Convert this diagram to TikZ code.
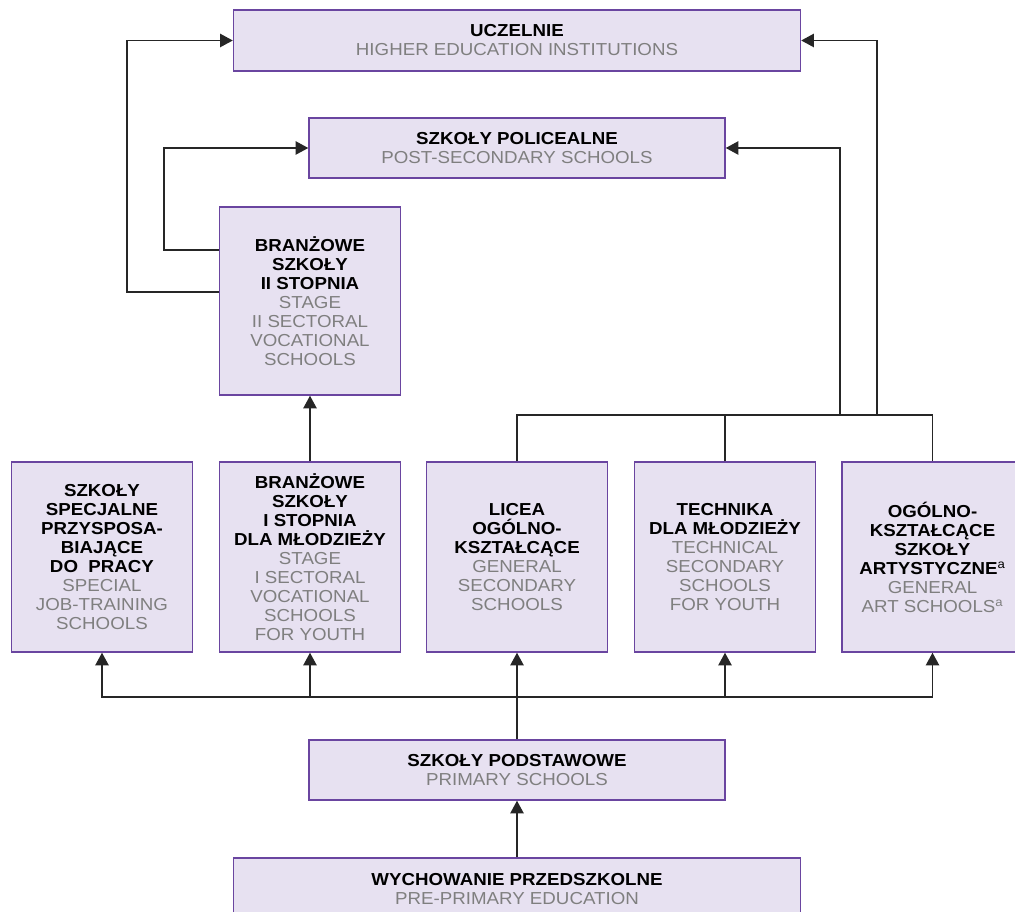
\documentclass[tikz,border=0pt]{standalone}
\usepackage{fontspec}
\setmainfont{Liberation Sans}[FakeStretch=1.08]
\usepackage{xcolor}
\usetikzlibrary{calc,arrows.meta}
\definecolor{boxfill}{HTML}{E7E1F1}
\definecolor{boxline}{HTML}{6A45A0}
\definecolor{engray}{HTML}{7F7F7F}
\tikzset{>={Triangle[width=10pt,length=9.5pt]}}
\tikzset{
  box/.style={draw=boxline, fill=boxfill, line width=1.1pt, inner sep=0pt, align=center,
    font=\fontsize{13pt}{14.25pt}\selectfont},
  widebox/.style={box, minimum width=425.25pt, minimum height=45.75pt},
  midbox/.style={box, minimum width=312pt, minimum height=45pt},
  tallbox/.style={box, minimum width=135.75pt, minimum height=142.5pt},
  conn/.style={line width=1.2pt, draw=black!85},
}

\begin{document}
\begin{tikzpicture}[x=0.75pt,y=-0.75pt]
\useasboundingbox (0,0) rectangle (1015,912);

% upper level
\node[widebox] (uczelnie) at (517,40.5) {\textbf{UCZELNIE}\\\color{engray}HIGHER EDUCATION INSTITUTIONS};
\node[midbox] (policealne) at (517,148) {\textbf{SZKOŁY POLICEALNE}\\\color{engray}POST-SECONDARY SCHOOLS};
\node[tallbox, minimum height=141pt] (branz2) at (310,301)
  {\textbf{BRANŻOWE}\\\textbf{SZKOŁY}\\\textbf{II STOPNIA}\\\color{engray}STAGE\\\color{engray}II SECTORAL\\\color{engray}VOCATIONAL\\\color{engray}SCHOOLS};

% secondary level
\node[tallbox] (specjalne) at (102,557)
  {\textbf{SZKOŁY}\\\textbf{SPECJALNE}\\\textbf{PRZYSPOSA-}\\\textbf{BIAJĄCE}\\\textbf{DO\ \ PRACY}\\\color{engray}SPECIAL\\\color{engray}JOB-TRAINING\\\color{engray}SCHOOLS};
\node[tallbox] (branz1) at (310,557)
  {\textbf{BRANŻOWE}\\\textbf{SZKOŁY}\\\textbf{I STOPNIA}\\\textbf{DLA MŁODZIEŻY}\\\color{engray}STAGE\\\color{engray}I SECTORAL\\\color{engray}VOCATIONAL\\\color{engray}SCHOOLS\\\color{engray}FOR YOUTH};
\node[tallbox] (licea) at (517,557)
  {\textbf{LICEA}\\\textbf{OGÓLNO-}\\\textbf{KSZTAŁCĄCE}\\\color{engray}GENERAL\\\color{engray}SECONDARY\\\color{engray}SCHOOLS};
\node[tallbox] (technika) at (725,557)
  {\textbf{TECHNIKA}\\\textbf{DLA MŁODZIEŻY}\\\color{engray}TECHNICAL\\\color{engray}SECONDARY\\\color{engray}SCHOOLS\\\color{engray}FOR YOUTH};
\node[tallbox] (artyst) at (932.5,557)
  {\textbf{OGÓLNO-}\\\textbf{KSZTAŁCĄCE}\\\textbf{SZKOŁY}\\\textbf{ARTYSTYCZNE}\textsuperscript{a}\\\color{engray}GENERAL\\\color{engray}ART SCHOOLS\textsuperscript{a}};

% lower level
\node[midbox] (podstawowe) at (517,770) {\textbf{SZKOŁY PODSTAWOWE}\\\color{engray}PRIMARY SCHOOLS};
\node[widebox, minimum height=46.5pt] (przedszkolne) at (517,889) {\textbf{WYCHOWANIE PRZEDSZKOLNE}\\\color{engray}PRE-PRIMARY EDUCATION};

% connectors
\draw[conn,->] ($(branz2.west)+(0,-9)$) -- ++(-92,0) |- (uczelnie.west);
\draw[conn,->] ($(branz2.west)+(0,-51)$) -- ++(-55,0) |- (policealne.west);
\draw[conn,->] (branz1.north) -- (branz2.south);

\draw[conn] (licea.north) -- ++(0,-46) -| (artyst.north);
\draw[conn] (technika.north) -- ++(0,-46);
\coordinate (toPol) at (840,416);
\coordinate (toUcz) at (877,416);
\draw[conn,->] (toPol) |- (policealne.east);
\draw[conn,->] (toUcz) |- (uczelnie.east);

\coordinate (hub) at (517,697);
\draw[conn,->] (podstawowe.north) -- (licea.south);
\foreach \n in {specjalne,branz1,technika,artyst}
  \draw[conn,->] (hub) -| (\n.south);
\draw[conn,->] (przedszkolne.north) -- (podstawowe.south);

\end{tikzpicture}
\end{document}
